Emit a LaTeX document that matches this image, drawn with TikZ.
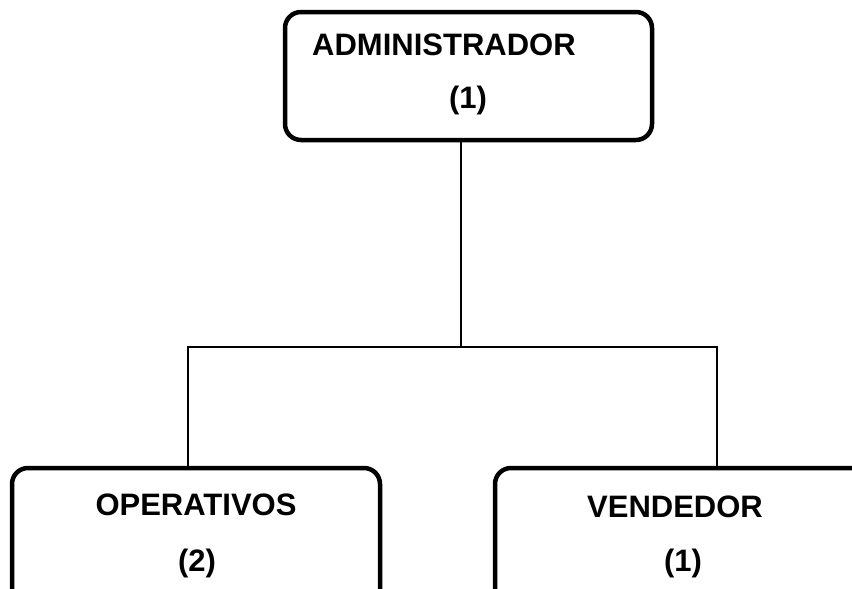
\documentclass[tikz,border=0pt]{standalone}
\usepackage{fontspec}
\setmainfont{Liberation Sans}
\begin{document}
\begin{tikzpicture}[x=1pt,y=-1pt,
  box/.style={draw=black,line width=4.5pt,rounded corners=16pt,inner sep=0pt,fill=none},
  lbl/.style={font=\bfseries\fontsize{31}{36}\selectfont,inner sep=0pt,anchor=base},
  link/.style={draw=black,line width=1.5pt}]
\useasboundingbox (0,0) rectangle (852,589);
\clip (0,0) rectangle (852,589);
% boxes
\node[box,minimum width=367pt,minimum height=128pt] (admin) at (468.5,76) {};
\node[box,minimum width=368pt,minimum height=152pt] (op) at (196,544) {};
\node[box,minimum width=385pt,minimum height=152pt] (vend) at (687.5,544) {};
% texts
\node[lbl,anchor=base west] (t1) at (312,55) {ADMINISTRADOR};
\node[lbl] (n1) at (468,108) {(1)};
\node[lbl] (t2) at (196,515) {OPERATIVOS};
\node[lbl] (n2) at (197,571) {(2)};
\node[lbl] (t3) at (675,517) {VENDEDOR};
\node[lbl] (n3) at (683,571) {(1)};
% connectors
\coordinate (j) at (461,347);
\coordinate (lx) at (188,0);
\coordinate (rx) at (717,0);
\draw[link] (admin.south -| j) -- (j);
\draw[link] (j) -| (op.north -| lx);
\draw[link] (j) -| (vend.north -| rx);
\end{tikzpicture}
\end{document}
